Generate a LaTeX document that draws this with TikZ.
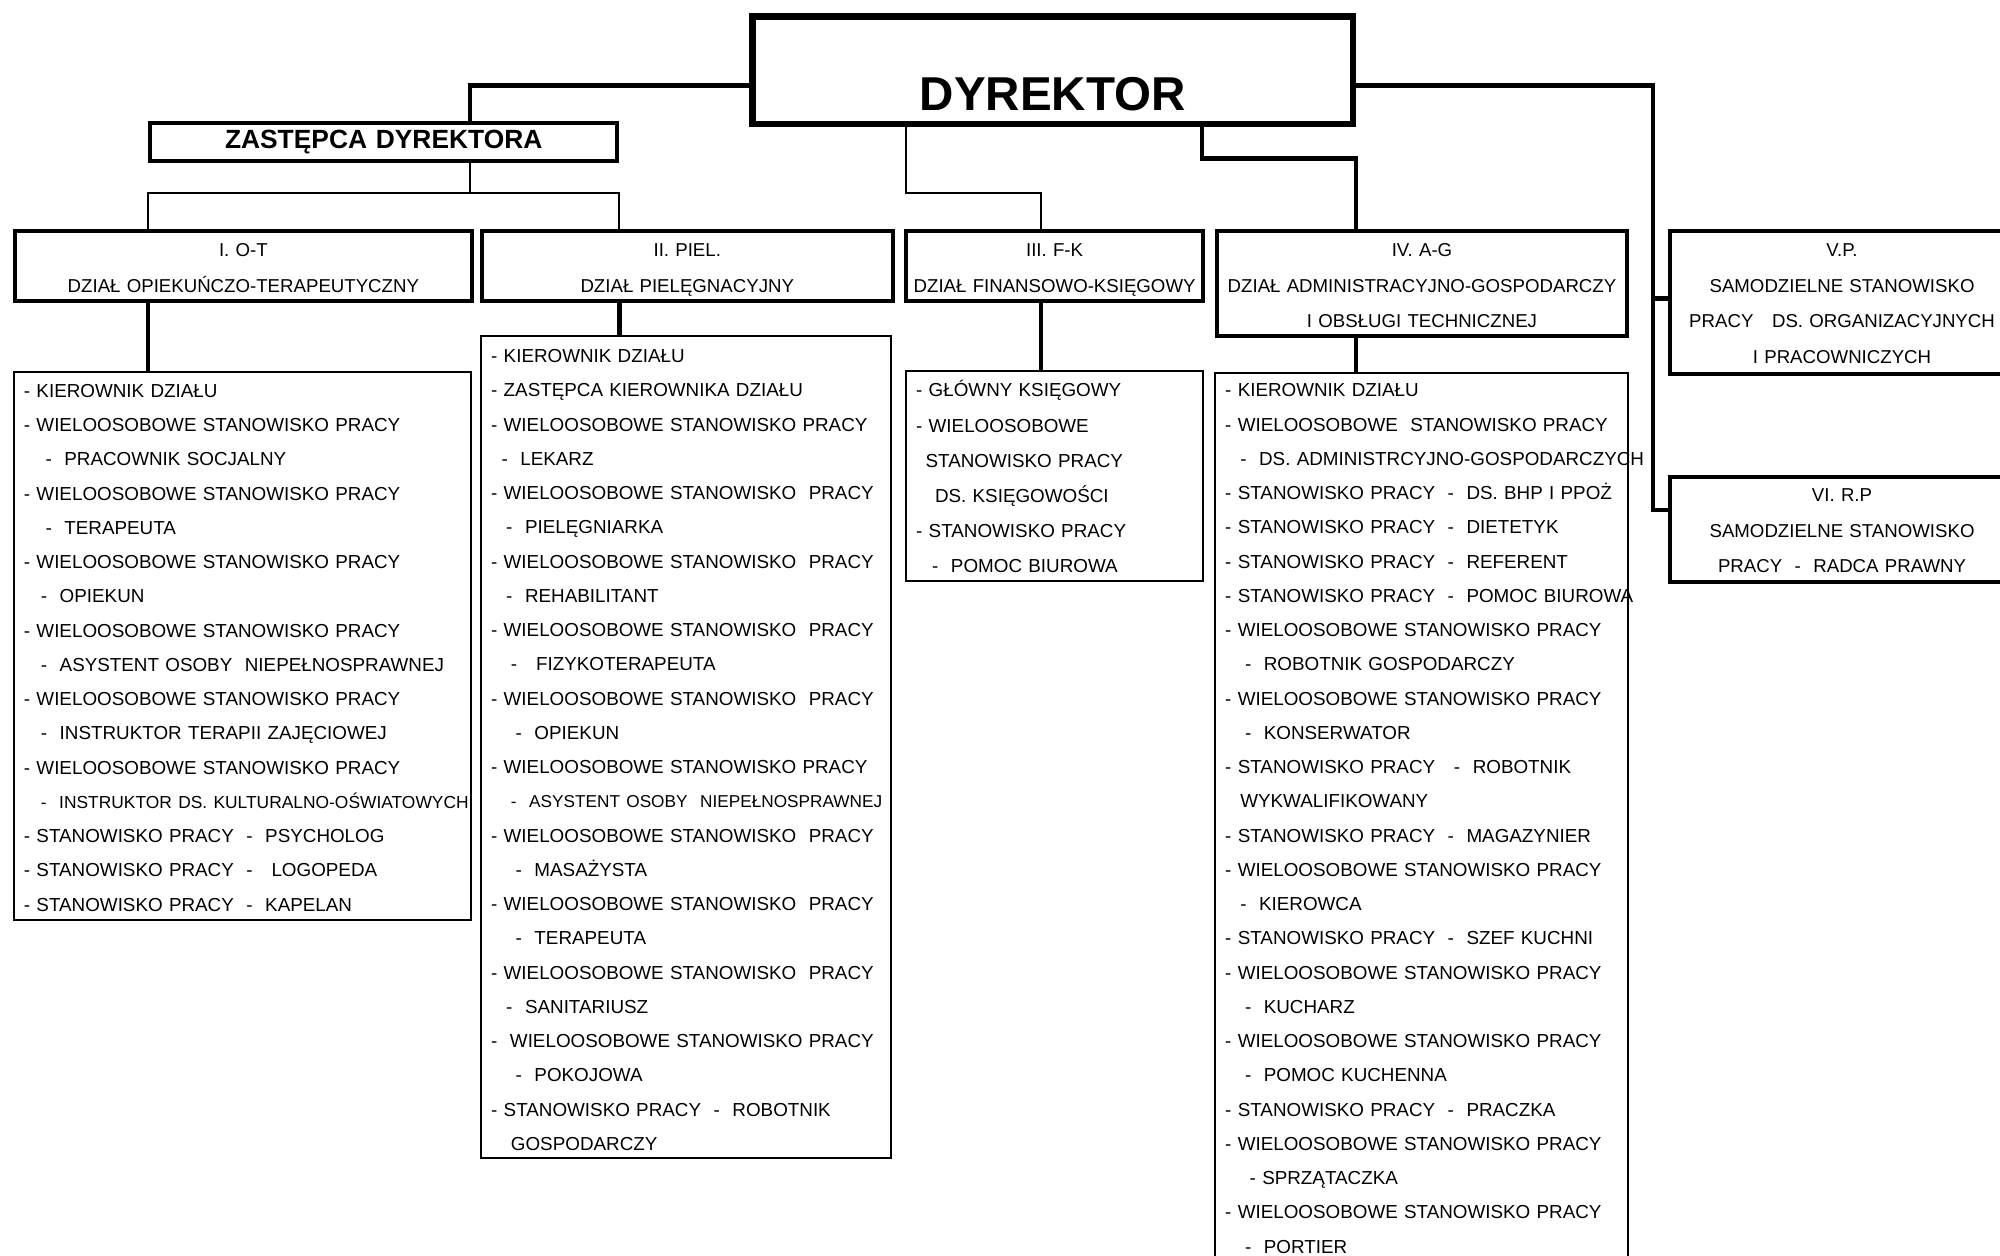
\documentclass[tikz,border=0pt]{standalone}
\usepackage{fontspec}
\setmainfont{Liberation Sans}
\begin{document}
\begin{tikzpicture}[x=0.25mm,y=-0.25mm]
\tikzstyle{every node}+=[inner sep=0pt]
\tikzstyle{unit}=[draw, line width=2.2pt, anchor=north west, align=center, text height=5mm, font=\fontsize{10.4}{19.8}\selectfont]
\tikzstyle{staff}=[draw, line width=1.1pt, anchor=north west, align=left, inner xsep=2mm, text height=5mm, font=\fontsize{10.5}{19.1}\selectfont]
\tikzstyle{conn}=[line width=2.5pt]
\tikzstyle{link}=[line width=1.1pt]
\useasboundingbox (0,0) rectangle (1568,984);
\node[unit, line width=3.7pt, text width=117.63mm, text height=18.3mm, text depth=2.75mm, font=\bfseries\fontsize{26.5}{30}\selectfont] (dyr) at (587.5,10.5) {DYREKTOR};
\node[unit, text width=91.63mm, text height=5.03mm, text depth=2.48mm, font=\bfseries\fontsize{14.7}{17}\selectfont] (zast) at (116,94.9) {ZASTĘPCA DYREKTORA};
\node[unit, text width=89.63mm, text depth=8.63mm] (oT) at (10,179.8) {I. O-T\\DZIAŁ OPIEKUŃCZO-TERAPEUTYCZNY};
\node[unit, text width=80.63mm, text depth=8.63mm] (piel) at (376,179.8) {II. PIEL.\\DZIAŁ PIELĘGNACYJNY};
\node[unit, text width=58.13mm, text depth=8.63mm] (fk) at (709,179.8) {III. F-K\\\mbox{DZIAŁ FINANSOWO-KSIĘGOWY}};
\node[unit, text width=80.35mm, text depth=15.53mm] (ag) at (952.6,179.8) {IV. A-G\\DZIAŁ ADMINISTRACYJNO-GOSPODARCZY\\I OBSŁUGI TECHNICZNEJ};
\node[unit, text width=67.45mm, text depth=22.88mm] (vp) at (1307.7,179.8) {V.P.\\SAMODZIELNE STANOWISKO\\PRACY~~~DS. ORGANIZACYJNYCH\\I PRACOWNICZYCH};
\node[unit, text width=67.45mm, text height=4.9mm, text depth=15.68mm] (rp) at (1307.7,372.4) {VI. R.P\\SAMODZIELNE STANOWISKO\\PRACY~~-~~RADCA PRAWNY};
\node[staff, text width=85.63mm, text depth=102.45mm] (listOT) at (10,290.8) {- KIEROWNIK DZIAŁU\\
- WIELOOSOBOWE STANOWISKO PRACY\\
\hspace*{1.15em}-~~PRACOWNIK SOCJALNY\\
- WIELOOSOBOWE STANOWISKO PRACY\\
\hspace*{1.15em}-~~TERAPEUTA\\
- WIELOOSOBOWE STANOWISKO PRACY\\
\hspace*{0.9em}-~~OPIEKUN\\
- WIELOOSOBOWE STANOWISKO PRACY\\
\hspace*{0.9em}-~~ASYSTENT OSOBY~~NIEPEŁNOSPRAWNEJ\\
- WIELOOSOBOWE STANOWISKO PRACY\\
\hspace*{0.9em}-~~INSTRUKTOR TERAPII ZAJĘCIOWEJ\\
- WIELOOSOBOWE STANOWISKO PRACY\\
\mbox{\hspace*{0.9em}{\fontsize{9.7}{19.1}\selectfont -~~INSTRUKTOR DS. KULTURALNO-OŚWIATOWYCH}}\\
- STANOWISKO PRACY~~-~~PSYCHOLOG\\
- STANOWISKO PRACY~~-~~~LOGOPEDA\\
- STANOWISKO PRACY~~-~~KAPELAN};
\node[staff, text width=76.38mm, text height=5.23mm, text depth=155.8mm] (listPiel) at (376.3,262.6) {- KIEROWNIK DZIAŁU\\
- ZASTĘPCA KIEROWNIKA DZIAŁU\\
- WIELOOSOBOWE STANOWISKO PRACY\\
\hspace*{0.55em}-~~LEKARZ\\
- WIELOOSOBOWE STANOWISKO~~PRACY\\
\hspace*{0.8em}-~~PIELĘGNIARKA\\
- WIELOOSOBOWE STANOWISKO~~PRACY\\
\hspace*{0.8em}-~~REHABILITANT\\
- WIELOOSOBOWE STANOWISKO~~PRACY\\
\hspace*{1.05em}-~~~FIZYKOTERAPEUTA\\
- WIELOOSOBOWE STANOWISKO~~PRACY\\
\hspace*{1.3em}-~~OPIEKUN\\
- WIELOOSOBOWE STANOWISKO PRACY\\
\mbox{\hspace*{1.05em}{\fontsize{9.6}{19.1}\selectfont -~~ASYSTENT OSOBY~~NIEPEŁNOSPRAWNEJ}}\\
- WIELOOSOBOWE STANOWISKO~~PRACY\\
\hspace*{1.3em}-~~MASAŻYSTA\\
- WIELOOSOBOWE STANOWISKO~~PRACY\\
\hspace*{1.3em}-~~TERAPEUTA\\
- WIELOOSOBOWE STANOWISKO~~PRACY\\
\hspace*{0.8em}-~~SANITARIUSZ\\
-~~WIELOOSOBOWE STANOWISKO PRACY\\
\hspace*{1.3em}-~~POKOJOWA\\
- STANOWISKO PRACY~~-~~ROBOTNIK\\
\hspace*{1.05em}GOSPODARCZY};
\node[staff, text width=54.15mm, text height=5.1mm, text depth=36.08mm, font=\fontsize{10.5}{19.6}\selectfont] (listFK) at (709.5,290) {- GŁÓWNY KSIĘGOWY\\
- WIELOOSOBOWE\\
\hspace*{0.5em}STANOWISKO PRACY\\
\hspace*{1.0em}DS. KSIĘGOWOŚCI\\
- STANOWISKO PRACY\\
\hspace*{0.85em}-~~POMOC BIUROWA};
\node[staff, text width=76.88mm, text height=4.75mm, text depth=172.4mm] (listAG) at (951.8,291.4) {- KIEROWNIK DZIAŁU\\
- WIELOOSOBOWE~~STANOWISKO PRACY\\
\mbox{\hspace*{0.8em}-~~DS. ADMINISTRCYJNO-GOSPODARCZYCH}\\
- STANOWISKO PRACY~~-~~DS. BHP I PPOŻ\\
- STANOWISKO PRACY~~-~~DIETETYK\\
- STANOWISKO PRACY~~-~~REFERENT\\
\mbox{- STANOWISKO PRACY~~-~~POMOC BIUROWA}\\
- WIELOOSOBOWE STANOWISKO PRACY\\
\hspace*{1.05em}-~~ROBOTNIK GOSPODARCZY\\
- WIELOOSOBOWE STANOWISKO PRACY\\
\hspace*{1.05em}-~~KONSERWATOR\\
- STANOWISKO PRACY~~~-~~ROBOTNIK\\
\hspace*{0.8em}WYKWALIFIKOWANY\\
- STANOWISKO PRACY~~-~~MAGAZYNIER\\
- WIELOOSOBOWE STANOWISKO PRACY\\
\hspace*{0.8em}-~~KIEROWCA\\
- STANOWISKO PRACY~~-~~SZEF KUCHNI\\
- WIELOOSOBOWE STANOWISKO PRACY\\
\hspace*{1.05em}-~~KUCHARZ\\
- WIELOOSOBOWE STANOWISKO PRACY\\
\hspace*{1.05em}-~~POMOC KUCHENNA\\
- STANOWISKO PRACY~~-~~PRACZKA\\
- WIELOOSOBOWE STANOWISKO PRACY\\
\hspace*{1.3em}-~SPRZĄTACZKA\\
- WIELOOSOBOWE STANOWISKO PRACY\\
\hspace*{1.05em}-~~PORTIER};
\coordinate (kz) at (368.5,66.9);
\coordinate (kb) at (368.5,151);
\coordinate (kf) at (710,151);
\coordinate (kk) at (816.2,151);
\coordinate (ka) at (942.4,124.4);
\coordinate (kv) at (1296,66.9);
\coordinate (kp) at (1296,233.9);
\coordinate (kr) at (1296,400);
\draw[conn] (kz -| dyr.west) -- (kz) -- (kz |- zast.north);
\draw[link] (kz |- zast.south) -- (kb);
\draw[link] (zast.west |- oT.north) -- (zast.west |- kb) -- (zast.east |- kb) -- (zast.east |- piel.north);
\draw[conn] (zast.west |- oT.south) -- (zast.west |- listOT.north);
\draw[conn] (zast.east |- piel.south) -- (zast.east |- listPiel.north);
\draw[link] (kf |- dyr.south) -- (kf) -- (kk) -- (kk |- fk.north);
\draw[conn] (kk |- fk.south) -- (kk |- listFK.north);
\draw[conn] (ka |- dyr.south) -- (ka) -- (ka -| dyr.east) -- (dyr.east |- ag.north);
\draw[conn] (dyr.east |- ag.south) -- (dyr.east |- listAG.north);
\draw[conn] (kv -| dyr.east) -- (kv) -- (kr) -- (kr -| rp.west);
\draw[conn] (kp) -- (kp -| vp.west);
\end{tikzpicture}
\end{document}
